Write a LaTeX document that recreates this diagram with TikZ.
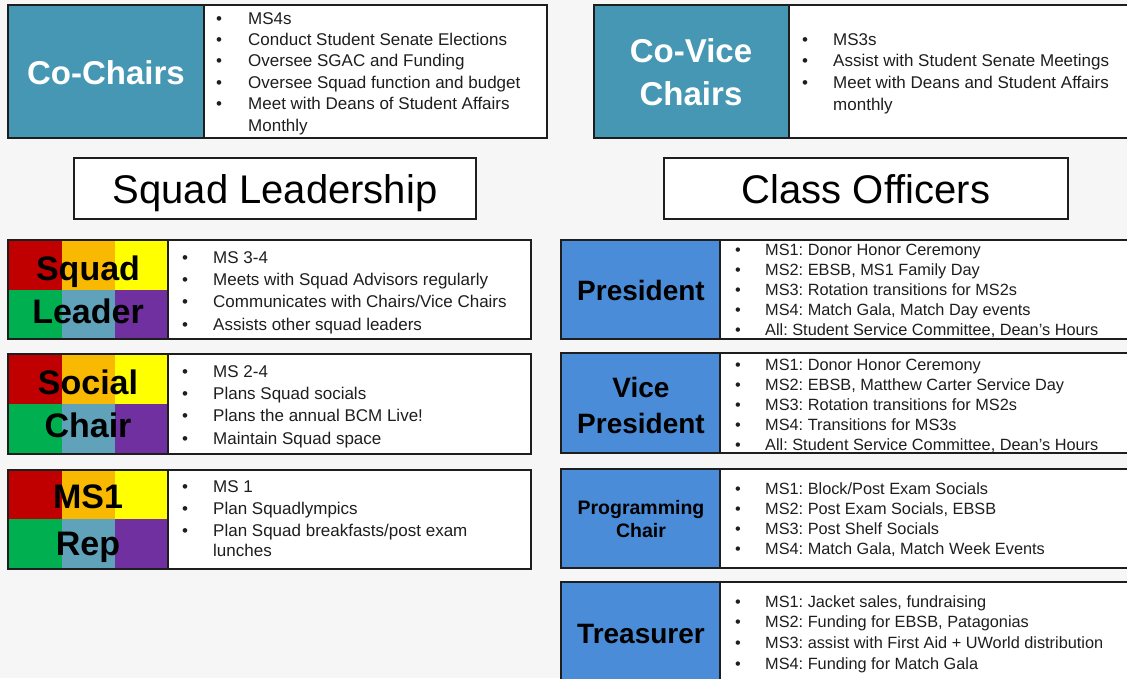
\documentclass[tikz,border=0pt]{standalone}
\usepackage{fontspec}
\setmainfont{Liberation Sans}
\frenchspacing
\definecolor{bgc}{HTML}{F6F6F6}
\definecolor{cteal}{HTML}{4597B3}
\definecolor{cblue}{HTML}{4A8CD8}
\definecolor{sqred}{HTML}{C00000}
\definecolor{sqorange}{HTML}{F9B900}
\definecolor{sqyellow}{HTML}{FFFF00}
\definecolor{sqgreen}{HTML}{00B050}
\definecolor{sqblue}{HTML}{5FA2BA}
\definecolor{sqpurple}{HTML}{7030A0}
\definecolor{ink}{HTML}{1E1E1E}
\begin{document}
\begin{tikzpicture}[x=1pt,y=-1pt,
  frame/.style={draw=ink, line width=1.2pt},
  bul/.style={anchor=base west, inner sep=0pt, text=ink, font=\fontsize{17}{20}\selectfont},
  obul/.style={anchor=base west, inner sep=0pt, text=ink, font=\fontsize{16.3}{20}\selectfont},
  lab/.style={anchor=base, inner sep=0pt, font=\bfseries\fontsize{33}{36}\selectfont},
  sqlab/.style={anchor=base, inner sep=0pt, text=black, font=\bfseries\fontsize{34}{36}\selectfont},
  olab/.style={anchor=base, inner sep=0pt, text=black, font=\bfseries\fontsize{28}{30}\selectfont},
  head/.style={anchor=base, inner sep=0pt, text=black, font=\fontsize{40}{44}\selectfont},
]
\useasboundingbox (0,0) rectangle (1127,678);
\fill[bgc] (0,0) rectangle (1127,678);

% ---------- Co-Chairs ----------
\fill[cteal] (8,5) rectangle (204,138);
\fill[white] (204,5) rectangle (547,138);
\draw[frame] (8,5) rectangle (547,138) (204,5) -- (204,138);
\node[lab,text=white] (cc) at (106,84) {Co-Chairs};
\foreach \t [count=\i] in {MS4s, Conduct Student Senate Elections, Oversee SGAC and Funding, Oversee Squad function and budget, Meet with Deans of Student Affairs}{
  \node[bul] (ccb\i) at (216,{24+(\i-1)*21.4}) {•};
  \node[bul] (cct\i) at (248,{24+(\i-1)*21.4}) {\t};
}
\node[bul] (cct6) at (248,131) {Monthly};

% ---------- Co-Vice Chairs ----------
\fill[cteal] (594,5) rectangle (789,138);
\fill[white] (789,5) rectangle (1135,138);
\draw[frame] (1135,5) -- (594,5) -- (594,138) -- (1135,138) (789,5) -- (789,138);
\node[lab,text=white] (cv1) at (691,62) {Co-Vice};
\node[lab,text=white] (cv2) at (691,105) {Chairs};
\foreach \t [count=\i] in {MS3s, Assist with Student Senate Meetings, Meet with Deans and Student Affairs}{
  \node[bul] (cvb\i) at (802,{45+(\i-1)*21.7}) {•};
  \node[bul] (cvt\i) at (833,{45+(\i-1)*21.7}) {\t};
}
\node[bul] (cvt4) at (833,110) {monthly};

% ---------- Headers ----------
\draw[frame, fill=white] (74,158) rectangle (476,219);
\node[head] (hsq) at (275,203) {Squad Leadership};
\draw[frame, fill=white] (664,158) rectangle (1068,219);
\node[head] (hco) at (866,203) {Class Officers};

% ---------- Squad blocks ----------
\foreach \top/\mid/\bot in {240/290/339, 354/404/454, 470/519/569}{
  \fill[sqred] (8,\top) rectangle (62,\mid);
  \fill[sqorange] (62,\top) rectangle (115,\mid);
  \fill[sqyellow] (115,\top) rectangle (168,\mid);
  \fill[sqgreen] (8,\mid) rectangle (62,\bot);
  \fill[sqblue] (62,\mid) rectangle (115,\bot);
  \fill[sqpurple] (115,\mid) rectangle (168,\bot);
  \fill[white] (168,\top) rectangle (531,\bot);
  \draw[frame] (8,\top) rectangle (531,\bot) (168,\top) -- (168,\bot);
}
\node[sqlab] (sl1) at (88,280) {Squad};
\node[sqlab] (sl2) at (88,323) {Leader};
\foreach \t [count=\i] in {MS 3-4, Meets with Squad Advisors regularly, Communicates with Chairs/Vice Chairs, Assists other squad leaders}{
  \node[bul] (slb\i) at (182,{263+(\i-1)*22.4}) {•};
  \node[bul] (slt\i) at (213,{263+(\i-1)*22.4}) {\t};
}
\node[sqlab] (sc1) at (88,394) {Social};
\node[sqlab] (sc2) at (88,437) {Chair};
\foreach \t [count=\i] in {MS 2-4, Plans Squad socials, Plans the annual BCM Live!, Maintain Squad space}{
  \node[bul] (scb\i) at (182,{377+(\i-1)*22.4}) {•};
  \node[bul] (sct\i) at (213,{377+(\i-1)*22.4}) {\t};
}
\node[sqlab] (mr1) at (88,508) {MS1};
\node[sqlab] (mr2) at (88,555) {Rep};
\foreach \t [count=\i] in {MS 1, Plan Squadlympics, Plan Squad breakfasts/post exam}{
  \node[bul] (mrb\i) at (182,{492+(\i-1)*22}) {•};
  \node[bul] (mrt\i) at (213,{492+(\i-1)*22}) {\t};
}
\node[bul] (mrt4) at (213,556) {lunches};

% ---------- Class officers ----------
\foreach \top/\bot in {240/339, 353/453, 469/568, 582/690}{
  \fill[cblue] (561,\top) rectangle (720,\bot);
  \fill[white] (720,\top) rectangle (1135,\bot);
  \draw[frame] (1135,\top) -- (561,\top) -- (561,\bot) -- (1135,\bot) (720,\top) -- (720,\bot);
}
\node[olab] (pr) at (641,300) {President};
\foreach \t [count=\i] in {MS1: Donor Honor Ceremony, {MS2: EBSB, MS1 Family Day}, MS3: Rotation transitions for MS2s, {MS4: Match Gala, Match Day events}, {All: Student Service Committee, Dean’s Hours}}{
  \node[obul] (prb\i) at (735,{255+(\i-1)*20.2}) {•};
  \node[obul] (prt\i) at (765,{255+(\i-1)*20.2}) {\t};
}
\node[olab] (vp1) at (641,397) {Vice};
\node[olab] (vp2) at (641,433) {President};
\foreach \t [count=\i] in {MS1: Donor Honor Ceremony, {MS2: EBSB, Matthew Carter Service Day}, MS3: Rotation transitions for MS2s, MS4: Transitions for MS3s, {All: Student Service Committee, Dean’s Hours}}{
  \node[obul] (vpb\i) at (735,{370+(\i-1)*20.2}) {•};
  \node[obul] (vpt\i) at (765,{370+(\i-1)*20.2}) {\t};
}
\node[olab, font=\bfseries\fontsize{19.5}{22}\selectfont] (pc1) at (641,514) {Programming};
\node[olab, font=\bfseries\fontsize{19.5}{22}\selectfont] (pc2) at (641,537) {Chair};
\foreach \t [count=\i] in {MS1: Block/Post Exam Socials, {MS2: Post Exam Socials, EBSB}, MS3: Post Shelf Socials, {MS4: Match Gala, Match Week Events}}{
  \node[obul] (pcb\i) at (735,{494+(\i-1)*20.3}) {•};
  \node[obul] (pct\i) at (765,{494+(\i-1)*20.3}) {\t};
}
\node[olab] (tr) at (641,643) {Treasurer};
\foreach \t [count=\i] in {{MS1: Jacket sales, fundraising}, {MS2: Funding for EBSB, Patagonias}, MS3: assist with First Aid + UWorld distribution, MS4: Funding for Match Gala}{
  \node[obul] (trb\i) at (735,{607+(\i-1)*20.7}) {•};
  \node[obul] (trt\i) at (765,{607+(\i-1)*20.7}) {\t};
}
\end{tikzpicture}
\end{document}
